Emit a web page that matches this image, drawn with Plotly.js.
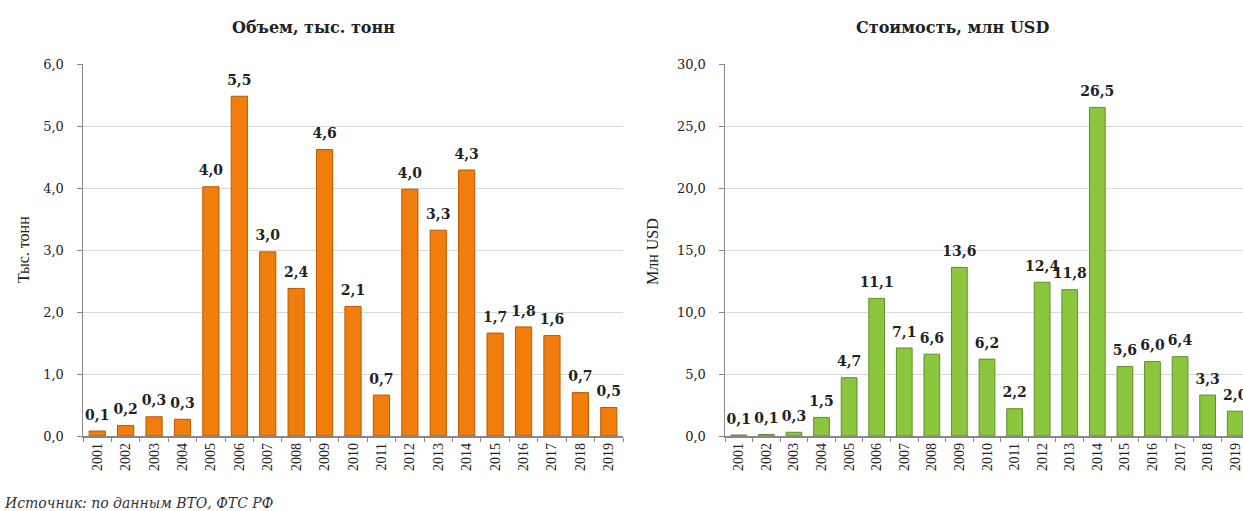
<!DOCTYPE html>
<html>
<head>
<meta charset="utf-8">
<script src="https://cdn.plot.ly/plotly-3.0.1.min.js"></script>
<style>
html, body { margin: 0; padding: 0; background: #ffffff; overflow: hidden; }
#chart { width: 1250px; height: 511px; }
</style>
</head>
<body>
<div id="chart"></div>
<script>
// ---- data ----
const years = ['2001','2002','2003','2004','2005','2006','2007','2008','2009','2010',
               '2011','2012','2013','2014','2015','2016','2017','2018','2019'];
// Объем, тыс. тонн
const volume = [0.08, 0.17, 0.31, 0.27, 4.02, 5.48, 2.97, 2.38, 4.62, 2.09,
                0.66, 3.98, 3.32, 4.29, 1.66, 1.76, 1.62, 0.70, 0.46];
// Стоимость, млн USD
const valueUSD = [0.08, 0.12, 0.3, 1.5, 4.7, 11.1, 7.1, 6.6, 13.6, 6.2,
                  2.2, 12.4, 11.8, 26.5, 5.6, 6.0, 6.4, 3.3, 2.0];

const titleLeft = 'Объем, тыс. тонн';
const titleRight = 'Стоимость, млн USD';
const yTitleLeft = 'Тыс. тонн';
const yTitleRight = 'Млн USD';
const sourceText = 'Источник: по данным ВТО, ФТС РФ';

// ---- layout helpers ----
const W = 1250, H = 511;
const px = p => p / W;
const py = p => 1 - p / H;

const orange = '#f07d0c', orangeEdge = '#b85a00';
const green = '#8cc63f', greenEdge = '#5f8f2a';

const labelFont = {family: 'DejaVu Serif', size: 14, color: '#222'};

const traces = [
  {type: 'bar', x: years, y: volume, xaxis: 'x', yaxis: 'y',
   marker: {color: orange, line: {color: orangeEdge, width: 1}}, hoverinfo: 'skip'},
  {type: 'scatter', mode: 'markers+text', x: years, y: volume, xaxis: 'x', yaxis: 'y',
   marker: {size: 11, opacity: 0}, texttemplate: '<b>%{y:.1f}</b>', textposition: 'top center',
   textfont: labelFont, cliponaxis: false, hoverinfo: 'skip'},
  {type: 'bar', x: years, y: valueUSD, xaxis: 'x2', yaxis: 'y2',
   marker: {color: green, line: {color: greenEdge, width: 1}}, hoverinfo: 'skip'},
  {type: 'scatter', mode: 'markers+text', x: years, y: valueUSD, xaxis: 'x2', yaxis: 'y2',
   marker: {size: 11, opacity: 0}, texttemplate: '<b>%{y:.1f}</b>', textposition: 'top center',
   textfont: labelFont, cliponaxis: false, hoverinfo: 'skip'}
];

const xCommon = {
  type: 'category', range: [-0.5, years.length - 0.5], autorange: false,
  tickangle: -90, ticks: 'outside', tickson: 'boundaries', ticklen: 4,
  tickcolor: '#888', showline: true, linecolor: '#888', linewidth: 1.5,
  tickfont: {family: 'Liberation Serif', size: 14, color: '#222'}, showgrid: false,
  fixedrange: true
};
const yCommon = {
  tickformat: '.1f', ticks: 'outside', ticklen: 5, tickcolor: '#888',
  showline: true, linecolor: '#888', linewidth: 1.5, gridcolor: '#d9d9d9', gridwidth: 1,
  zeroline: false, tickfont: {family: 'DejaVu Serif', size: 13, color: '#222'},
  ticklabelstandoff: 10, fixedrange: true
};

const layout = {
  width: W, height: H,
  margin: {l: 0, r: 0, t: 0, b: 0},
  paper_bgcolor: '#ffffff', plot_bgcolor: '#ffffff',
  showlegend: false, separators: ', ', bargap: 0.43,
  xaxis: Object.assign({}, xCommon, {domain: [px(83), px(623)], anchor: 'y'}),
  yaxis: Object.assign({}, yCommon, {domain: [py(436), py(64)], range: [0, 6], dtick: 1, anchor: 'x'}),
  xaxis2: Object.assign({}, xCommon, {domain: [px(725), px(1249)], anchor: 'y2'}),
  yaxis2: Object.assign({}, yCommon, {domain: [py(436), py(64)], range: [0, 30], dtick: 5, anchor: 'x2'}),
  annotations: [
    {text: '<b>' + titleLeft + '</b>', xref: 'paper', yref: 'paper', x: px(313), y: py(27),
     xanchor: 'center', yanchor: 'middle', showarrow: false,
     font: {family: 'DejaVu Serif', size: 16, color: '#222'}},
    {text: '<b>' + titleRight + '</b>', xref: 'paper', yref: 'paper', x: px(952), y: py(27),
     xanchor: 'center', yanchor: 'middle', showarrow: false,
     font: {family: 'DejaVu Serif', size: 16, color: '#222'}},
    {text: yTitleLeft, xref: 'paper', yref: 'paper', x: px(23), y: py(250),
     xanchor: 'center', yanchor: 'middle', textangle: -90, showarrow: false,
     font: {family: 'Liberation Serif', size: 16, color: '#222'}},
    {text: yTitleRight, xref: 'paper', yref: 'paper', x: px(652), y: py(251),
     xanchor: 'center', yanchor: 'middle', textangle: -90, showarrow: false,
     font: {family: 'Liberation Serif', size: 16, color: '#222'}},
    {text: '<i>' + sourceText + '</i>', xref: 'paper', yref: 'paper', x: px(2), y: py(503),
     xanchor: 'left', yanchor: 'middle', showarrow: false,
     font: {family: 'DejaVu Serif', size: 14, color: '#333'}}
  ]
};

Plotly.newPlot('chart', traces, layout, {displayModeBar: false, staticPlot: true});
</script>
</body>
</html>
